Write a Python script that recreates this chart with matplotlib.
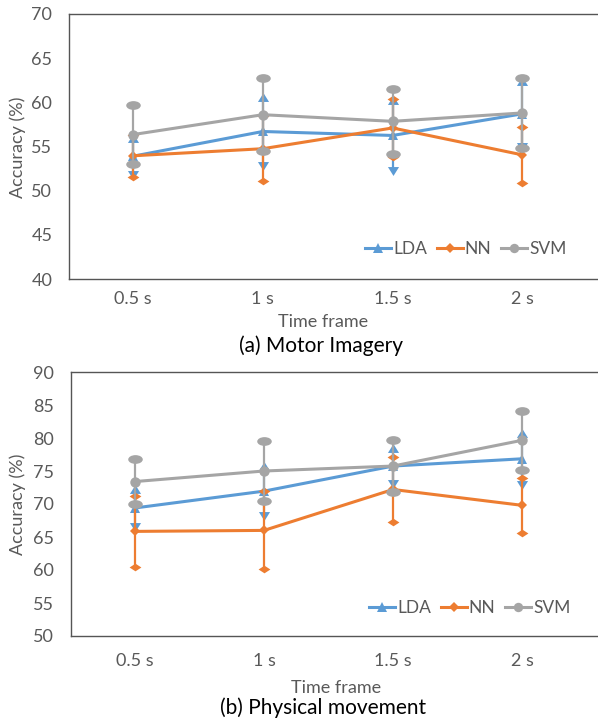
import numpy as np
import matplotlib
matplotlib.use("Agg")
import matplotlib.pyplot as plt
from matplotlib.path import Path
from matplotlib.transforms import Affine2D
from matplotlib.lines import Line2D

plt.rcParams['font.family'] = ['Lato', 'DejaVu Sans']

categories = ["0.5 s", "1 s", "1.5 s", "2 s"]
series_names = ["LDA", "NN", "SVM"]

# (a) Motor Imagery
mi_lda_mean = [53.9, 56.7, 56.25, 58.7]
mi_lda_err = [2.1, 3.9, 4.05, 3.7]
mi_nn_mean = [53.95, 54.75, 57.1, 54.05]
mi_nn_err = [2.4, 3.7, 3.25, 3.2]
mi_svm_mean = [56.35, 58.6, 57.85, 58.8]
mi_svm_err = [3.35, 4.15, 3.7, 3.95]

# (b) Physical movement
pm_lda_mean = [69.4, 71.95, 75.75, 76.85]
pm_lda_err = [2.85, 3.75, 2.7, 3.95]
pm_nn_mean = [65.85, 66.0, 72.2, 69.8]
pm_nn_err = [5.4, 5.9, 4.95, 4.2]
pm_svm_mean = [73.4, 75.0, 75.75, 79.65]
pm_svm_err = [3.4, 4.5, 4.0, 4.5]

colors = {"LDA": "#5B9BD5", "NN": "#ED7D31", "SVM": "#A5A5A5"}
text_gray = "#595959"

# custom flattened markers
circ = Path.unit_circle()
ellipse = circ.transformed(Affine2D().scale(1.0, 0.6))
diamond = Path([(0, 1), (1, 0), (0, -1), (-1, 0), (0, 1)],
               [Path.MOVETO, Path.LINETO, Path.LINETO, Path.LINETO, Path.CLOSEPOLY])
flat_diamond = diamond.transformed(Affine2D().scale(1.0, 0.65))
tri_up = Path([(-1, -0.8), (1, -0.8), (0, 0.8), (-1, -0.8)],
              [Path.MOVETO, Path.LINETO, Path.LINETO, Path.CLOSEPOLY])
tri_down = tri_up.transformed(Affine2D().scale(1, -1))

mean_markers = {"LDA": "^", "NN": "D", "SVM": "o"}
mean_ms = {"LDA": 7.5, "NN": 5.5, "SVM": 7.5}
cap_top = {"LDA": tri_up, "NN": flat_diamond, "SVM": ellipse}
cap_bot = {"LDA": tri_down, "NN": flat_diamond, "SVM": ellipse}
cap_ms = {"LDA": 8.0, "NN": 8.5, "SVM": 10.5}

FS = 13
LFS = 12.5
W, H = 598, 721
fig = plt.figure(figsize=(W / 100, H / 100), dpi=100)


def make_panel(left_px, top_px, bottom_px, x0_px, spacing_px, ylim, yticks,
               data, legend_xy_px, tick_y_px, xlabel_xy_px, caption_xy_px, caption,
               ylabel_y_px):
    right_px = 640
    ax = fig.add_axes([left_px / W, 1 - bottom_px / H, (right_px - left_px) / W,
                       (bottom_px - top_px) / H])
    xmin = -(x0_px - left_px) / spacing_px
    xmax = (right_px - x0_px) / spacing_px
    ax.set_xlim(xmin, xmax)
    ax.set_ylim(*ylim)
    x = np.arange(len(categories))
    for k, name in enumerate(series_names):
        mean, err = data[name]
        mean = np.array(mean)
        err = np.array(err)
        c = colors[name]
        z = 3 + k
        ax.vlines(x, mean - err, mean + err, colors=c, linewidth=1.6, zorder=z)
        ax.plot(x, mean + err, linestyle='none', marker=cap_top[name],
                markersize=cap_ms[name], color=c, markeredgewidth=0, zorder=z)
        ax.plot(x, mean - err, linestyle='none', marker=cap_bot[name],
                markersize=cap_ms[name], color=c, markeredgewidth=0, zorder=z)
        ax.plot(x, mean, color=c, linewidth=2.2, marker=mean_markers[name],
                markersize=mean_ms[name], markeredgewidth=0, zorder=z + 0.5,
                solid_capstyle='round')
    ax.set_xticks(x)
    ax.set_xticklabels([])
    ax.set_yticks(yticks)
    ax.set_yticklabels([str(v) for v in yticks])
    ax.tick_params(axis='both', length=0, labelsize=FS, colors=text_gray)
    ax.tick_params(axis='y', pad=12)
    for s in ax.spines.values():
        s.set_color("#555555")
        s.set_linewidth(1.0)
    for xi, lab in zip(x, categories):
        fig.text((x0_px + xi * spacing_px) / W, 1 - tick_y_px / H, lab,
                 ha='center', va='center', fontsize=FS, color=text_gray)
    fig.text(xlabel_xy_px[0] / W, 1 - xlabel_xy_px[1] / H, "Time frame",
             ha='center', va='center', fontsize=FS, color=text_gray)
    fig.text(caption_xy_px[0] / W, 1 - caption_xy_px[1] / H, caption,
             ha='center', va='center', fontsize=15, color='black')
    fig.text(18 / W, 1 - ylabel_y_px / H, "Accuracy (%)", rotation=90,
             ha='center', va='center', fontsize=FS, color=text_gray)
    handles = [Line2D([], [], color=colors[n], linewidth=2.2, marker=mean_markers[n],
                      markersize=mean_ms[n] * 0.9, markeredgewidth=0)
               for n in series_names]
    leg = fig.legend(handles, series_names, loc='center left',
                     bbox_to_anchor=(legend_xy_px[0] / W, 1 - legend_xy_px[1] / H),
                     ncol=3, frameon=False, fontsize=LFS, handlelength=1.5,
                     handletextpad=0.12, columnspacing=0.55, borderpad=0,
                     borderaxespad=0)
    for t in leg.get_texts():
        t.set_color(text_gray)
    return ax


make_panel(69, 14, 279, 133, 129.8, (40, 70), [40, 45, 50, 55, 60, 65, 70],
           {"LDA": (mi_lda_mean, mi_lda_err), "NN": (mi_nn_mean, mi_nn_err),
            "SVM": (mi_svm_mean, mi_svm_err)},
           (365, 249), 299, (323, 322), (321, 346), "(a) Motor Imagery", 147)

make_panel(70.5, 372, 636, 135, 129.0, (50, 90), [50, 55, 60, 65, 70, 75, 80, 85, 90],
           {"LDA": (pm_lda_mean, pm_lda_err), "NN": (pm_nn_mean, pm_nn_err),
            "SVM": (pm_svm_mean, pm_svm_err)},
           (369, 608), 661, (336, 688), (323, 708), "(b) Physical movement", 504)

fig.savefig("out.png", dpi=100)
